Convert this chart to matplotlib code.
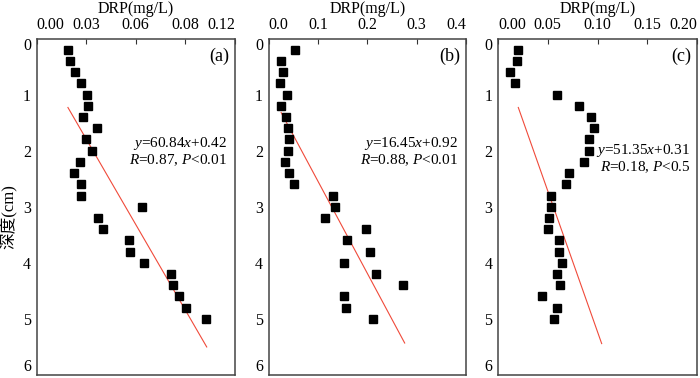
import matplotlib.pyplot as plt
from matplotlib.ticker import FixedLocator, FixedFormatter

plt.rcParams['font.family'] = ['Liberation Serif', 'Noto Sans CJK SC']
plt.rcParams['mathtext.fontset'] = 'custom'
plt.rcParams['mathtext.rm'] = 'Liberation Serif'
plt.rcParams['mathtext.it'] = 'Liberation Serif:italic'

# depth of each sample (cm)
depth = [0.2, 0.4, 0.6, 0.8, 1.0, 1.2, 1.4, 1.6, 1.8, 2.0, 2.2, 2.4, 2.6,
         2.8, 3.0, 3.2, 3.4, 3.6, 3.8, 4.0, 4.2, 4.4, 4.6, 4.8, 5.0]

# DRP (mg/L)
drp_a = [0.0190, 0.0201, 0.0235, 0.0271, 0.0303, 0.0313, 0.0279, 0.0368, 0.0301,
         0.0334, 0.0265, 0.0227, 0.0271, 0.0267, 0.0636, 0.0370, 0.0400, 0.0557,
         0.0567, 0.0650, 0.0815, 0.0823, 0.0862, 0.0902, 0.1027]
drp_b = [0.0545, 0.0249, 0.0290, 0.0236, 0.0370, 0.0263, 0.0357, 0.0391, 0.0418,
         0.0391, 0.0337, 0.0424, 0.0525, 0.1306, 0.1340, 0.1152, 0.1966, 0.1589,
         0.2054, 0.1522, 0.2182, 0.2721, 0.1522, 0.1576, 0.2121]
drp_c = [0.0204, 0.0188, 0.0121, 0.0168, 0.0596, 0.0814, 0.0935, 0.0965, 0.0918,
         0.0918, 0.0864, 0.0717, 0.0683, 0.0536, 0.0529, 0.0516, 0.0506, 0.0616,
         0.0616, 0.0640, 0.0590, 0.0626, 0.0446, 0.0596, 0.0563]

# regression lines as drawn (end points)
fit_a_x, fit_a_y = [0.0190, 0.1029], [1.23, 5.50]
fit_b_x, fit_b_y = [0.0256, 0.2758], [1.32, 5.43]
fit_c_x, fit_c_y = [0.0204, 0.1042], [1.23, 5.44]

xticks_a = [0.0, 0.03, 0.06, 0.09, 0.12]
xlabels_a = ['0.00', '0.03', '0.06', '0.08', '0.12']
xticks_b = [0.0, 0.1, 0.2, 0.3, 0.4]
xlabels_b = ['0.0', '0.1', '0.2', '0.3', '0.4']
xticks_c = [0.0, 0.05, 0.10, 0.15, 0.20]
xlabels_c = ['0.00', '0.05', '0.10', '0.15', '0.20']
yticks = [0, 1, 2, 3, 4, 5, 6]

eq_a = r'$y$=60.84$x$+0.42' + '\n' + r'$R$=0.87, $P$<0.01'
eq_b = r'$y$=16.45$x$+0.92' + '\n' + r'$R$=0.88, $P$<0.01'
eq_c = r'$y$=51.35$x$+0.31' + '\n' + r'$R$=0.18, $P$<0.5'

W, H = 700, 378
fig = plt.figure(figsize=(7, 3.78), dpi=100)

panels = [
    (36.5, 198.5, drp_a, fit_a_x, fit_a_y, xticks_a, xlabels_a, eq_a, '(a)', 0.962, 0.0),
    (268.5, 197.5, drp_b, fit_b_x, fit_b_y, xticks_b, xlabels_b, eq_b, '(b)', 0.962, 0.0),
    (498, 199, drp_c, fit_c_x, fit_c_y, xticks_c, xlabels_c, eq_c, '(c)', 0.968, -0.02),
]

for left, width, drp, fx, fy, xt, xl, eq, tag, eqx, eqdy in panels:
    ax = fig.add_axes([left / W, 3 / H, width / W, 336.5 / H])
    ax.plot(drp, depth, 's', color='black', markersize=5.5, zorder=3)
    ax.plot(fx, fy, '-', color='#f04a3a', linewidth=0.8, zorder=2)
    ax.set_xlim(xt[0], xt[-1])
    ax.set_ylim(6, 0)
    ax.xaxis.tick_top()
    ax.xaxis.set_label_position('top')
    ax.xaxis.set_major_locator(FixedLocator(xt))
    ax.xaxis.set_major_formatter(FixedFormatter(xl))
    ax.set_yticks(yticks)
    ax.tick_params(axis='x', direction='in', length=3.5, width=0.8, pad=4,
                   labelsize=11.5, color='#333333')
    ax.tick_params(axis='y', length=0, pad=4, labelsize=11.5)
    lbls = ax.get_xticklabels()
    lbls[0].set_horizontalalignment('left')
    lbls[-1].set_horizontalalignment('right')
    ylb = ax.get_yticklabels()
    ylb[0].set_verticalalignment('top')
    ylb[-1].set_verticalalignment('bottom')
    for s in ax.spines.values():
        s.set_color('#444444')
        s.set_linewidth(1.1)
    ax.set_xlabel('DRP(mg/L)', fontsize=11.5, labelpad=3)
    ax.text(eqx, 0.664 + eqdy, eq, transform=ax.transAxes, ha='right',
            va='center', fontsize=11, linespacing=1.0)
    ax.text(0.972, 0.948, tag, transform=ax.transAxes, ha='right',
            va='center', fontsize=13)

fig.text(9 / W, 1 - 217 / H, '深度(cm)', rotation=90, ha='center', va='center',
         fontsize=12)

plt.savefig('out.png', dpi=100)
